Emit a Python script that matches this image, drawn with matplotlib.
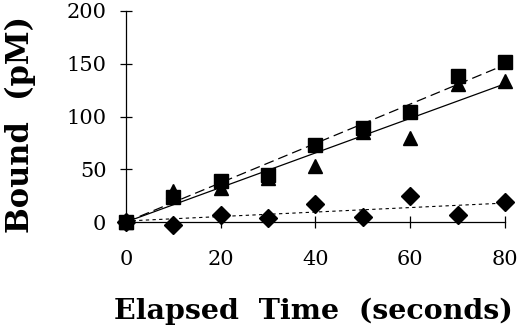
import matplotlib
matplotlib.use("Agg")
import matplotlib.pyplot as plt

time = [0, 10, 20, 30, 40, 50, 60, 70, 80]
squares = [0, 24, 39, 45, 73, 89, 104, 138, 152]
triangles = [0, 29, 32, 42, 53, 85, 80, 131, 134]
diamonds = [0, -3, 7, 4, 17, 5, 25, 7, 19]

fit_x = [0, 80]
fit_squares = [0, 149]
fit_triangles = [0, 131]
fit_diamonds = [1, 18]

xticks = [0, 20, 40, 60, 80]
yticks = [0, 50, 100, 150, 200]

fig = plt.figure(figsize=(5.2, 3.29), dpi=100)
ax = fig.add_axes([0.242, 0.325, 0.729, 0.6416])

ax.plot(fit_x, fit_squares, color="black", lw=0.9, ls=(0, (8, 4)))
ax.plot(fit_x, fit_triangles, color="black", lw=0.9, ls="-")
ax.plot(fit_x, fit_diamonds, color="black", lw=0.8, ls=(0, (3, 3)))

ax.plot(time, diamonds, ls="none", marker="D", ms=9, color="black", clip_on=False, zorder=5)
ax.plot(time, triangles, ls="none", marker="^", ms=10, color="black", clip_on=False, zorder=6)
ax.plot(time, squares, ls="none", marker="s", ms=9.5, color="black", clip_on=False, zorder=7)

ax.set_xlim(0, 80)
ax.set_ylim(0, 200)
ax.set_xticks(xticks)
ax.set_yticks(yticks)
ax.spines["top"].set_visible(False)
ax.spines["right"].set_visible(False)
for s in ("left", "bottom"):
    ax.spines[s].set_linewidth(0.9)
ax.tick_params(direction="inout", length=8, width=0.9, labelsize=15)
ax.tick_params(axis="x", pad=16)
ax.tick_params(axis="y", pad=10)
for lbl in ax.get_xticklabels() + ax.get_yticklabels():
    lbl.set_fontfamily("DejaVu Serif")

ax.set_xlabel("Elapsed  Time  (seconds)", fontsize=20.5, fontweight="bold",
              fontfamily="DejaVu Serif")
ax.set_ylabel("Bound  (pM)", fontsize=22, fontweight="bold",
              fontfamily="DejaVu Serif")
ax.xaxis.set_label_coords(0.496, -0.358)
ax.yaxis.set_label_coords(-0.236, 0.46)

fig.savefig("out.png", dpi=100)
